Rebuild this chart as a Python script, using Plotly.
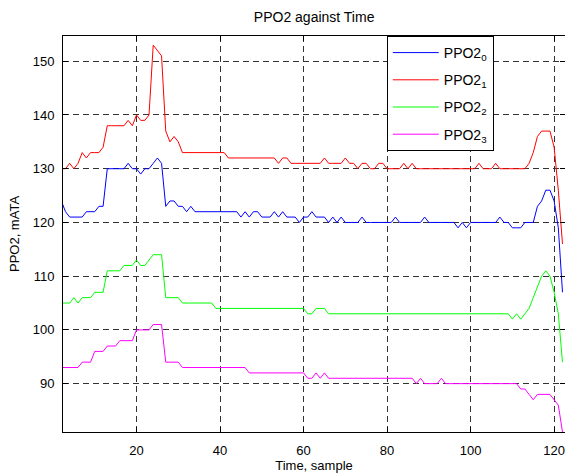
import plotly.graph_objects as go

# Sample index (x axis) shared by all four sensors.
samples = list(range(2, 123))

# PPO2 readings in mATA, one value per sample.
ppo2_0 = [
    124, 122, 121, 121, 121, 121, 122, 122, 122, 123,
    123, 130, 130, 130, 130, 130, 131, 130, 130, 129,
    130, 130, 131, 132, 131, 123, 124, 124, 123, 123,
    122, 123, 122, 122, 122, 122, 122, 122, 122, 122,
    122, 122, 122, 121, 122, 121, 122, 122, 121, 121,
    121, 122, 121, 122, 121, 121, 121, 120, 121, 121,
    122, 121, 121, 121, 120, 121, 120, 121, 120, 120,
    120, 120, 121, 120, 120, 120, 120, 120, 120, 120,
    121, 120, 120, 120, 120, 120, 120, 121, 120, 120,
    120, 120, 120, 120, 120, 119, 120, 119, 120, 120,
    120, 120, 120, 120, 120, 121, 120, 120, 119, 119,
    119, 120, 120, 120, 123, 124, 126, 126, 124, 119,
    107,
]
ppo2_1 = [
    130, 130, 131, 130, 131, 133, 132, 133, 133, 133,
    134, 138, 138, 138, 138, 138, 139, 138, 140, 139,
    139, 140, 153, 152, 151, 137, 135, 136, 135, 133,
    133, 133, 133, 133, 133, 133, 133, 133, 133, 133,
    132, 132, 132, 132, 132, 132, 132, 132, 132, 132,
    132, 132, 131, 132, 132, 131, 131, 131, 131, 131,
    131, 131, 131, 132, 131, 131, 131, 131, 132, 131,
    131, 130, 131, 131, 130, 130, 131, 131, 130, 130,
    130, 130, 131, 130, 131, 130, 130, 130, 130, 130,
    130, 130, 130, 130, 130, 130, 130, 130, 130, 130,
    131, 130, 130, 130, 131, 130, 130, 130, 130, 130,
    130, 130, 131, 133, 136, 137, 137, 137, 134, 126,
    116,
]
ppo2_2 = [
    105, 105, 105, 106, 105, 106, 106, 106, 107, 107,
    107, 111, 111, 111, 111, 112, 112, 112, 113, 112,
    112, 113, 114, 114, 114, 106, 106, 106, 106, 105,
    105, 105, 105, 105, 105, 105, 105, 104, 104, 104,
    104, 104, 104, 104, 104, 104, 104, 104, 104, 104,
    104, 104, 104, 104, 104, 104, 104, 104, 104, 103,
    103, 104, 104, 104, 103, 103, 103, 103, 103, 103,
    103, 103, 103, 103, 103, 103, 103, 103, 103, 103,
    103, 103, 103, 103, 103, 103, 103, 103, 103, 103,
    103, 103, 103, 103, 103, 103, 103, 103, 103, 103,
    103, 103, 103, 103, 103, 103, 103, 103, 102, 103,
    102, 103, 104, 106, 108, 110, 111, 110, 107, 103,
    94,
]
ppo2_3 = [
    93, 93, 93, 93, 93, 94, 94, 94, 96, 96,
    96, 97, 97, 97, 98, 98, 98, 98, 100, 100,
    100, 100, 101, 101, 101, 94, 94, 94, 94, 93,
    93, 93, 93, 93, 93, 93, 93, 93, 93, 93,
    93, 93, 93, 93, 93, 92, 92, 92, 92, 92,
    92, 92, 92, 92, 92, 92, 92, 92, 92, 91,
    91, 92, 91, 92, 91, 91, 91, 91, 91, 91,
    91, 91, 91, 91, 91, 91, 91, 91, 91, 91,
    91, 91, 91, 91, 91, 90, 91, 90, 90, 90,
    90, 91, 90, 90, 90, 90, 90, 90, 90, 90,
    90, 90, 90, 90, 90, 90, 90, 90, 90, 90,
    89, 89, 88, 87, 88, 88, 88, 88, 87, 86,
    81,
]

series_names = ["PPO2<sub>0</sub>", "PPO2<sub>1</sub>", "PPO2<sub>2</sub>", "PPO2<sub>3</sub>"]
series_colors = ["#0000FF", "#FF0000", "#00FF00", "#FF00FF"]
x_ticks = [20, 40, 60, 80, 100, 120]
y_ticks = [90, 100, 110, 120, 130, 140, 150]

font_family = "Liberation Sans, Arial, sans-serif"

fig = go.Figure()
for i, (name, vals, col) in enumerate(zip(series_names, [ppo2_0, ppo2_1, ppo2_2, ppo2_3], series_colors)):
    fig.add_trace(
        go.Scatter(
            x=samples,
            y=vals,
            mode="lines",
            name=name,
            legendgroup=f"g{i}",
            line=dict(color=col, width=1),
        )
    )

# matlab-ish axes: box, inward ticks, dashed black grid
axis_common = dict(
    showline=True,
    linecolor="black",
    linewidth=1,
    mirror="ticks",
    ticks="inside",
    ticklen=5,
    tickcolor="black",
    showgrid=True,
    gridcolor="#333333",
    griddash="6px,4px",
    gridwidth=1,
    zeroline=False,
    automargin=False,
    ticklabeloverflow="allow",
    tickfont=dict(family=font_family, size=13, color="black"),
)

fig.update_xaxes(
    range=[2.4, 122.6],
    tickvals=x_ticks,
    title=dict(text="Time, sample", font=dict(family=font_family, size=13, color="black"), standoff=3),
    ticklabelstandoff=6,
    **axis_common,
)
fig.update_yaxes(
    range=[81, 154.7],
    tickvals=y_ticks,
    title=dict(text="PPO2, mATA", font=dict(family=font_family, size=13, color="black"), standoff=10),
    ticklabelstandoff=5,
    **axis_common,
)

fig.update_layout(
    width=565,
    height=475,
    margin=dict(l=63, r=0, t=36, b=43),
    paper_bgcolor="white",
    plot_bgcolor="white",
    title=dict(
        text="PPO2 against Time",
        x=0.556,
        xanchor="center",
        y=1 - 17 / 475,
        yanchor="middle",
        font=dict(family=font_family, size=14, color="black"),
    ),
    legend=dict(
        x=0.645,
        y=1,
        xanchor="left",
        yanchor="top",
        bgcolor="white",
        bordercolor="black",
        borderwidth=1,
        tracegroupgap=6,
        itemwidth=46,
        font=dict(family=font_family, size=14, color="black"),
    ),
    showlegend=True,
)

# drop the default 8px body margin so the figure sits at the page corner
fig.write_html(
    "out.html",
    config={"displayModeBar": False},
    post_script="document.body.style.margin='0px';document.body.style.overflow='hidden';",
)
